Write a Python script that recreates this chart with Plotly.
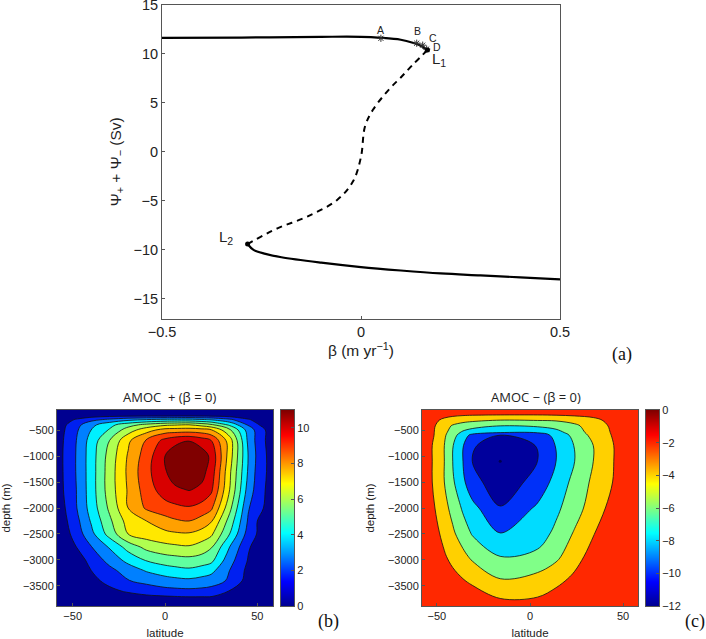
"""
Bifurcation diagram and AMOC streamfunction panels.
"""

import plotly.graph_objects as go

# (a) bifurcation branches
upper_beta = [-0.5, -0.3, -0.1, 0.0, 0.05, 0.1, 0.13, 0.15, 0.167]
upper_psi = [11.65, 11.68, 11.75, 11.75, 11.65, 11.45, 11.15, 10.85, 10.4]
middle_beta = [0.167, 0.13, 0.1, 0.073, 0.03, 0.01, 0.0, -0.02, -0.06, -0.135, -0.21, -0.285]
middle_psi = [10.4, 8.9, 7.6, 6.5, 4.3, 2.6, -0.5, -3.0, -4.9, -6.6, -7.8, -9.4]
lower_beta = [-0.285, -0.27, -0.24, -0.2, -0.1, 0.0, 0.1, 0.2, 0.3, 0.4, 0.5]
lower_psi = [-9.4, -10.0, -10.4, -10.75, -11.3, -11.75, -12.1, -12.4, -12.6, -12.8, -13.0]
star_beta = [0.05, 0.14, 0.155, 0.165]
star_psi = [11.6, 11.1, 10.9, 10.5]
fold_beta = [0.167, -0.285]
fold_psi = [10.4, -9.4]

# (b) AMOC + streamfunction
lat_b = [-58.5, -55, -48, -40, -30, -20, -10, 0, 5, 13, 20, 25, 35, 45, 50, 55, 58.5]
depth_b = [-115, -230, -300, -400, -500, -700, -1000, -1300, -1650, -2000, -2250, -2500, -2750, -3000, -3200, -3400, -3600, -3700, -3885]
amoc_plus = [
    [0.0, 0.0, 0.0, 0.0, 0.0, 0.0, 0.0, 0.0, 0.0, 0.0, 0.0, 0.0, 0.0, 0.0, 0.0, 0.0, 0.0],
    [0.05, 0.2, 0.4, 0.6, 0.8, 0.9, 0.95, 0.95, 0.97, 1.0, 0.95, 0.9, 0.7, 0.4, 0.25, 0.12, 0.03],
    [0.15, 0.55, 1.1, 1.7, 2.2, 2.7, 3.0, 3.2, 3.25, 3.3, 3.1, 2.9, 2.2, 1.1, 0.7, 0.35, 0.1],
    [0.25, 0.8, 1.65, 2.7, 3.7, 4.6, 5.3, 5.8, 5.9, 6.0, 5.6, 5.2, 3.8, 1.9, 1.1, 0.6, 0.2],
    [0.3, 0.9, 1.85, 3.0, 4.1, 5.5, 6.6, 7.4, 7.45, 7.5, 7.4, 7.1, 5.2, 2.6, 1.7, 0.9, 0.3],
    [0.3, 1.0, 2.0, 3.4, 5.0, 6.8, 8.1, 9.3, 9.7, 9.95, 9.5, 9.0, 6.5, 2.8, 1.7, 0.9, 0.3],
    [0.3, 1.07, 2.05, 3.5, 5.4, 7.1, 8.5, 10.0, 10.5, 11.0, 10.5, 9.8, 6.5, 3.0, 1.8, 1.0, 0.3],
    [0.3, 1.05, 2.05, 3.5, 5.5, 7.2, 8.7, 9.9, 10.5, 11.0, 10.3, 9.6, 6.2, 2.9, 1.7, 1.0, 0.3],
    [0.3, 1.0, 2.0, 3.5, 5.5, 7.1, 8.5, 9.5, 9.8, 10.05, 9.8, 9.2, 6.0, 2.6, 1.6, 0.9, 0.3],
    [0.2, 0.85, 1.95, 3.4, 5.2, 7.0, 8.15, 8.6, 8.75, 8.9, 8.6, 8.2, 5.3, 2.1, 1.4, 0.8, 0.2],
    [0.1, 0.7, 1.7, 3.1, 4.8, 6.4, 7.0, 7.6, 7.85, 8.0, 7.6, 7.1, 4.6, 1.9, 1.0, 0.65, 0.1],
    [0.05, 0.5, 1.45, 2.7, 4.4, 6.0, 6.5, 6.75, 6.85, 6.9, 6.6, 6.2, 4.0, 1.6, 0.95, 0.5, 0.05],
    [0.0, 0.3, 1.0, 1.95, 3.1, 4.4, 5.3, 5.7, 5.8, 5.9, 5.55, 5.1, 3.0, 1.1, 0.7, 0.3, 0.0],
    [0.0, 0.1, 0.6, 1.25, 2.4, 3.3, 4.1, 4.5, 4.6, 4.7, 4.55, 4.3, 2.4, 0.95, 0.5, 0.15, 0.0],
    [0.0, 0.02, 0.4, 1.0, 1.7, 2.5, 3.1, 3.5, 3.65, 3.8, 3.55, 3.3, 2.0, 0.75, 0.4, 0.1, 0.0],
    [0.0, 0.05, 0.15, 0.75, 1.25, 1.95, 2.3, 2.6, 2.7, 2.8, 2.65, 2.5, 1.85, 0.6, 0.35, 0.1, 0.0],
    [0.0, 0.0, 0.05, 0.3, 0.8, 1.1, 1.4, 1.65, 1.7, 1.75, 1.7, 1.6, 0.95, 0.45, 0.2, 0.05, 0.0],
    [0.0, 0.0, 0.0, 0.15, 0.45, 0.7, 0.85, 0.95, 1.0, 1.05, 1.04, 1.02, 0.8, 0.3, 0.1, 0.02, 0.0],
    [0.0, 0.0, 0.0, 0.0, 0.0, 0.0, 0.0, 0.0, 0.0, 0.0, 0.0, 0.0, 0.0, 0.0, 0.0, 0.0, 0.0],
]
bands_b = ["#000090", "#0020f0", "#0080ff", "#00f0ff", "#60ffa0", "#b0ff50",
           "#ffe800", "#ffa000", "#ff4000", "#d80000", "#800000"]

# (c) AMOC - streamfunction
lat_c = [-58, -52.5, -46, -41.5, -36, -31, -16, 4, 14, 24, 34, 45, 52, 58]
depth_c = [-115, -210, -310, -420, -550, -600, -800, -1100, -1500, -2000, -2480, -2930, -3360, -3740, -3885]
amoc_minus = [
    [-0.1, -0.1, -0.1, -0.1, -0.1, -0.1, -0.1, -0.1, -0.1, -0.1, -0.1, -0.1, -0.1, -0.1],
    [-0.2, -0.7, -1.3, -1.6, -1.8, -1.9, -2.0, -2.0, -1.9, -1.7, -1.4, -0.8, -0.4, -0.1],
    [-0.3, -1.3, -2.5, -3.0, -3.4, -3.6, -4.0, -3.9, -3.8, -3.3, -2.6, -1.2, -0.6, -0.2],
    [-0.4, -1.6, -3.2, -4.2, -4.8, -5.2, -6.0, -5.7, -5.2, -4.4, -3.0, -1.6, -0.8, -0.3],
    [-0.4, -1.7, -3.5, -5.0, -6.4, -7.2, -8.0, -7.9, -6.8, -5.0, -3.2, -1.75, -0.9, -0.3],
    [-0.4, -1.7, -3.7, -5.3, -7.0, -8.6, -10.0, -9.2, -7.4, -5.4, -3.4, -1.8, -0.9, -0.3],
    [-0.5, -2.0, -4.0, -5.9, -7.9, -9.7, -11.5, -9.9, -7.9, -5.9, -4.0, -2.0, -1.0, -0.3],
    [-0.5, -2.0, -4.0, -6.0, -8.0, -10.0, -12.0, -10.0, -8.0, -6.0, -4.0, -2.0, -1.0, -0.3],
    [-0.4, -2.0, -4.0, -5.7, -7.6, -9.3, -11.2, -9.3, -7.3, -5.4, -3.6, -1.9, -0.9, -0.3],
    [-0.3, -1.6, -3.4, -4.6, -6.3, -7.4, -9.9, -7.7, -6.4, -4.9, -3.0, -1.3, -0.6, -0.2],
    [-0.2, -1.1, -2.6, -3.7, -5.0, -6.2, -8.0, -6.9, -5.6, -3.8, -2.1, -0.9, -0.4, -0.1],
    [-0.1, -0.6, -1.8, -2.6, -3.5, -4.4, -6.0, -5.6, -4.5, -2.6, -1.4, -0.5, -0.2, -0.05],
    [0.0, -0.2, -0.8, -1.4, -2.0, -2.5, -4.0, -3.4, -2.5, -1.7, -0.8, -0.2, -0.1, 0.0],
    [0.0, -0.05, -0.2, -0.4, -0.7, -1.0, -2.0, -1.9, -1.4, -0.8, -0.3, -0.1, 0.0, 0.0],
    [0.0, 0.0, 0.0, 0.0, 0.0, 0.0, 0.0, 0.0, 0.0, 0.0, 0.0, 0.0, 0.0, 0.0],
]
bands_c = ["#00009c", "#0030f8", "#00dcff", "#80ff88", "#ffd000", "#ff2800"]
spot_lat = [-16]
spot_depth = [-1100]

# colorbars
bar_b = [0, 1, 2, 3, 4, 5, 6, 7, 8, 9, 10, 11]
bar_c = [-12, -11, -10, -9, -8, -7, -6, -5, -4, -3, -2, -1, 0]
jet = [[0, "#00008f"], [0.125, "#0000ff"], [0.375, "#00ffff"], [0.625, "#ffff00"],
       [0.875, "#ff0000"], [1, "#800000"]]

WIDTH = 706
HEIGHT = 639
FRAME = "#555555"
TEXT = "#222222"
FONT = "Liberation Sans"


def px(x0, x1):
    return [x0 / WIDTH, x1 / WIDTH]


def py(y_top, y_bottom):
    return [1 - y_bottom / HEIGHT, 1 - y_top / HEIGHT]


def band_scale(bands):
    return [[i / (len(bands) - 1), c] for i, c in enumerate(bands)]


fig = go.Figure()

# (a)
fig.add_trace(go.Scatter(x=upper_beta, y=upper_psi, mode="lines", xaxis="x", yaxis="y",
                         line=dict(color="black", width=2.2, shape="spline")))
fig.add_trace(go.Scatter(x=lower_beta, y=lower_psi, mode="lines", xaxis="x", yaxis="y",
                         line=dict(color="black", width=2.2, shape="spline")))
fig.add_trace(go.Scatter(x=middle_beta, y=middle_psi, mode="lines", xaxis="x", yaxis="y",
                         line=dict(color="black", width=2, dash="6px,5px", shape="spline")))
fig.add_trace(go.Scatter(x=star_beta, y=star_psi, mode="markers", xaxis="x", yaxis="y",
                         marker=dict(symbol="asterisk", size=6, color="#333333",
                                     line=dict(width=1, color="#333333"))))
fig.add_trace(go.Scatter(x=fold_beta, y=fold_psi, mode="markers", xaxis="x", yaxis="y",
                         marker=dict(color="black", size=5)))

# (b)
fig.add_trace(go.Contour(x=lat_b, y=depth_b, z=amoc_plus, xaxis="x2", yaxis="y2",
                         colorscale=band_scale(bands_b), showscale=False,
                         autocontour=False, contours=dict(start=1, end=10, size=1, coloring="fill"),
                         line=dict(color="#111111", width=0.8, smoothing=1)))
fig.add_trace(go.Heatmap(x=[0, 1], y=bar_b, z=[[v, v] for v in bar_b], xaxis="x3", yaxis="y3",
                         colorscale=jet, zmin=0, zmax=11, zsmooth="best", showscale=False))

# (c)
fig.add_trace(go.Contour(x=lat_c, y=depth_c, z=amoc_minus, xaxis="x4", yaxis="y4",
                         colorscale=band_scale(bands_c), showscale=False,
                         autocontour=False, contours=dict(start=-10, end=-2, size=2, coloring="fill"),
                         line=dict(color="#111111", width=0.8, smoothing=1)))
fig.add_trace(go.Scatter(x=spot_lat, y=spot_depth, mode="markers", xaxis="x4", yaxis="y4",
                         marker=dict(color="#000050", size=3)))
fig.add_trace(go.Heatmap(x=[0, 1], y=bar_c, z=[[v, v] for v in bar_c], xaxis="x5", yaxis="y5",
                         colorscale=jet, zmin=-12, zmax=0, zsmooth="best", showscale=False))

frame = dict(showline=True, linecolor=FRAME, linewidth=1, mirror=True, showgrid=False, automargin=False,
             zeroline=False, ticks="inside", tickcolor=FRAME, ticklen=3, color=TEXT, ticklabeloverflow="allow")
small = dict(tickfont=dict(size=11, family=FONT, color=TEXT), title_font=dict(size=11.5, family=FONT, color=TEXT))

fig.update_layout(
    width=WIDTH,
    height=HEIGHT,
    margin=dict(l=0, r=0, t=0, b=0),
    paper_bgcolor="white",
    plot_bgcolor="white",
    showlegend=False,
    font=dict(family=FONT, color=TEXT),
    xaxis=dict(domain=px(162, 560), range=[-0.5, 0.5], tickvals=[-0.5, 0, 0.5], ticktext=["−0.5", "0", "0.5"],
               title=dict(text="β (m yr<sup>−1</sup>)", standoff=6, font=dict(size=15.5, family=FONT, color=TEXT)),
               tickfont=dict(size=14.5, family=FONT, color=TEXT), **frame),
    yaxis=dict(domain=py(5, 318.5), range=[-17, 15], tickvals=[-15, -10, -5, 0, 5, 10, 15],
               title=dict(text="Ψ<sub>+</sub> + Ψ<sub>−</sub> (Sv)", standoff=8, font=dict(size=15.5, family=FONT, color=TEXT)),
               tickfont=dict(size=14.5, family=FONT, color=TEXT), **frame),
    xaxis2=dict(domain=px(57, 273), range=[-58.5, 58.5], tickvals=[-50, 0, 50], anchor="y2",
                title=dict(text="latitude", standoff=8), **small, **frame),
    yaxis2=dict(domain=py(410, 606), range=[-3885, -115], tickvals=[-500, -1000, -1500, -2000, -2500, -3000, -3500],
                anchor="x2", title=dict(text="depth (m)", standoff=10), **small, **frame),
    xaxis3=dict(domain=px(281, 294), range=[0, 1], showticklabels=False, ticks="", anchor="y3", automargin=False,
                showline=True, linecolor=FRAME, mirror=True),
    yaxis3=dict(domain=py(410, 606), range=[0, 11], tickvals=[0, 2, 4, 6, 8, 10], side="right", anchor="x3",
                **small, **frame),
    xaxis4=dict(domain=px(422, 638), range=[-58, 58], tickvals=[-50, 0, 50], anchor="y4",
                title=dict(text="latitude", standoff=8), **small, **frame),
    yaxis4=dict(domain=py(410, 606), range=[-3885, -115], tickvals=[-500, -1000, -1500, -2000, -2500, -3000, -3500],
                anchor="x4", title=dict(text="depth (m)", standoff=10), **small, **frame),
    xaxis5=dict(domain=px(646, 659), range=[0, 1], showticklabels=False, ticks="", anchor="y5", automargin=False,
                showline=True, linecolor=FRAME, mirror=True),
    yaxis5=dict(domain=py(410, 606), range=[-12, 0], tickvals=[-12, -10, -8, -6, -4, -2, 0], side="right", anchor="x5",
                **small, **frame),
)

# point labels on the bifurcation diagram
for text, x, y, size in [
    ("A", 0.05, 12.4, 10.5),
    ("B", 0.141, 12.3, 10.5),
    ("C", 0.181, 11.6, 10.5),
    ("D", 0.191, 10.7, 10.5),
    ("L<sub>1</sub>", 0.195, 9.4, 15),
    ("L<sub>2</sub>", -0.34, -8.7, 15),
]:
    fig.add_annotation(x=x, y=y, xref="x", yref="y", text=text, showarrow=False,
                       font=dict(size=size, family=FONT, color=TEXT))

# panel titles and letters
for text, x, y in [("AMOC  + (β = 0)", 169, 397), ("AMOC − (β = 0)", 536, 397)]:
    fig.add_annotation(x=x / WIDTH, y=1 - y / HEIGHT, xref="paper", yref="paper", text=text, xanchor="center",
                       yanchor="middle", showarrow=False, font=dict(size=13, family="Open Sans", color=TEXT))
for text, x, y in [("(a)", 622, 354), ("(b)", 328, 621), ("(c)", 695, 621)]:
    fig.add_annotation(x=x / WIDTH, y=1 - y / HEIGHT, xref="paper", yref="paper", text=text, xanchor="center",
                       yanchor="middle", showarrow=False, font=dict(size=18, family="Liberation Serif", color="#111111"))

fig.write_html("out.html", post_script="document.body.style.margin='0';", config=dict(displayModeBar=False))
